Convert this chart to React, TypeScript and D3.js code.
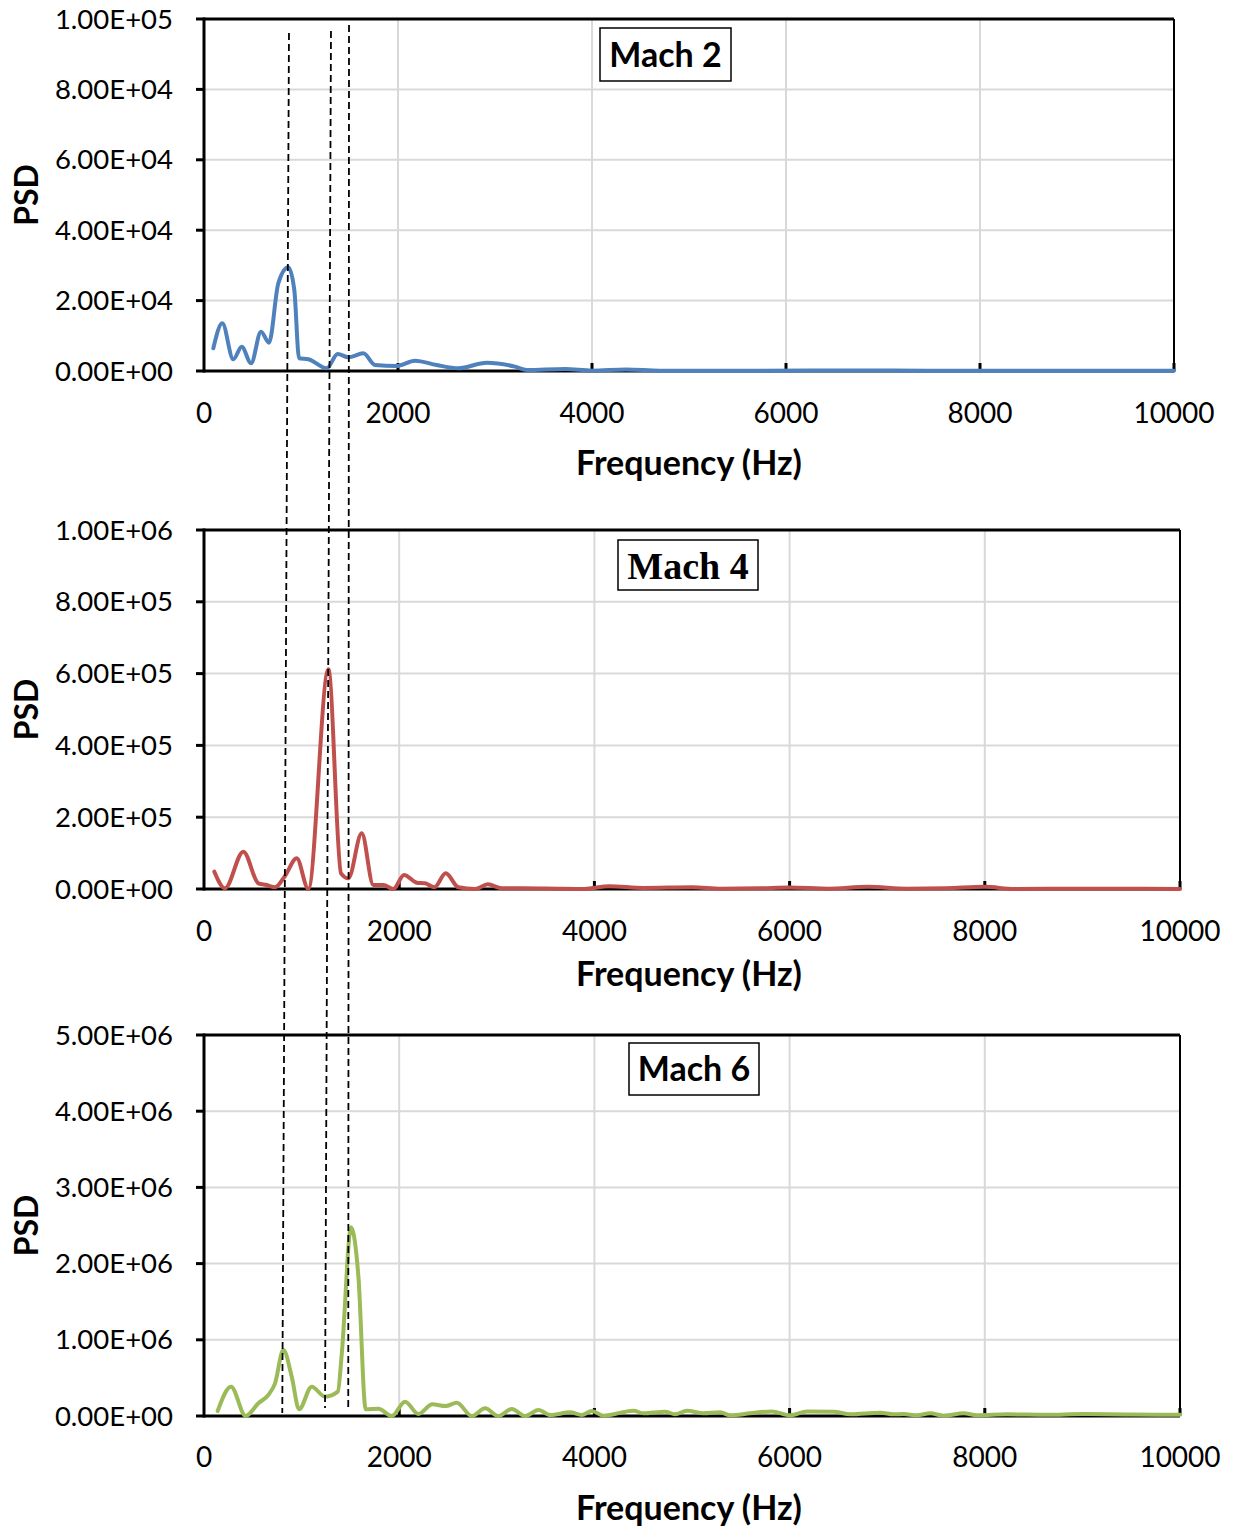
import React, { useRef, useEffect } from 'react';
import * as d3 from 'd3';

const WIDTH = 1234;
const HEIGHT = 1529;
const FONT = 'Lato, "Open Sans", sans-serif';

const X_TICKS = [0, 2000, 4000, 6000, 8000, 10000];

// Mach 2
const M2_FREQ = [96, 189, 302, 389, 485, 588, 670, 766, 869, 931, 980, 1076, 1265, 1378, 1488, 1643, 1763, 1987, 2175, 2398, 2622, 2914, 3206, 3327, 3722, 4000, 4350, 4700, 5500, 6900, 8000, 9000, 10000];
const M2_PSD = [6450, 13550, 3320, 6900, 2190, 11170, 8040, 24900, 29460, 23000, 3600, 3320, 770, 4830, 3880, 5020, 1700, 1420, 2930, 1700, 770, 2360, 1230, 280, 570, 100, 400, 100, 80, 150, 50, 100, 50];

// Mach 4
const M4_FREQ = [106, 215, 403, 557, 643, 728, 830, 950, 1069, 1274, 1404, 1479, 1616, 1735, 1838, 1940, 2050, 2180, 2265, 2361, 2477, 2607, 2778, 2908, 3051, 3500, 3900, 4150, 4500, 5000, 5300, 5700, 6000, 6400, 6800, 7200, 7600, 8000, 8300, 9000, 10000];
const M4_PSD = [48200, 2000, 104000, 15900, 11100, 4700, 36200, 85500, 0, 612000, 43700, 29800, 155000, 11100, 11100, 0, 39000, 17600, 15900, 4700, 43700, 4700, 0, 13000, 2000, 1500, 0, 8000, 3000, 5000, 1000, 2000, 4000, 1000, 6000, 1000, 2000, 6000, 0, 1000, 0];

// Mach 6
const M6_FREQ = [140, 277, 427, 557, 659, 728, 813, 899, 974, 1104, 1241, 1371, 1412, 1507, 1582, 1657, 1787, 1924, 2060, 2197, 2340, 2477, 2590, 2744, 2880, 3017, 3154, 3290, 3427, 3547, 3752, 3871, 3974, 4093, 4400, 4503, 4725, 4827, 4947, 5118, 5289, 5392, 5596, 5818, 6007, 6178, 6451, 6622, 6929, 7066, 7168, 7305, 7441, 7578, 7783, 7920, 8227, 8637, 9000, 9500, 10000];
const M6_PSD = [65600, 384000, 0, 167000, 276000, 429000, 866000, 516000, 88000, 384000, 253000, 319000, 822000, 2476000, 1831000, 88000, 96000, 0, 188000, 26000, 153000, 131000, 175000, 0, 101000, 0, 92000, 0, 79000, 13000, 48000, 13000, 66000, 4000, 70000, 35000, 57000, 22000, 70000, 35000, 48000, 9000, 35000, 60000, 9000, 60000, 57000, 22000, 44000, 22000, 26000, 9000, 35000, 4000, 35000, 9000, 22000, 17000, 25000, 20000, 15000];

// dashed guide lines: frequency at the top (Mach 2 axis) and bottom (Mach 6 axis)
const GUIDE_TOP_FREQ = [876, 1309, 1495];
const GUIDE_TOP_PSD = [96000, 96600, 98300];
const GUIDE_BOTTOM_FREQ = [802, 1240, 1478];
const GUIDE_BOTTOM_PSD = [39000, 105000, 66000];

const panels = [
    { freq: M2_FREQ, psd: M2_PSD, yMax: 1e5, color: '#4F81BD', title: 'Mach 2', serif: false,
      left: 204, right: 1174, top: 19, bottom: 371, box: { x: 600, y: 28, w: 131, h: 53 }, tickY: 423, labelY: 475 },
    { freq: M4_FREQ, psd: M4_PSD, yMax: 1e6, color: '#C0504D', title: 'Mach 4', serif: true,
      left: 204, right: 1180, top: 530, bottom: 889, box: { x: 618, y: 540, w: 140, h: 50 }, tickY: 941, labelY: 986 },
    { freq: M6_FREQ, psd: M6_PSD, yMax: 5e6, color: '#9BBB59', title: 'Mach 6', serif: false,
      left: 204, right: 1180, top: 1035, bottom: 1416, box: { x: 629, y: 1043, w: 130, h: 52 }, tickY: 1467, labelY: 1520 },
];

const sci = (v: number) => {
    if (v === 0) return '0.00E+00';
    const e = Math.floor(Math.log10(v));
    const m = v / Math.pow(10, e);
    return `${m.toFixed(2)}E+${String(e).padStart(2, '0')}`;
};

const App = () => {
    const svgRef = useRef<SVGSVGElement>(null);

    useEffect(() => {
        const svg = d3.select(svgRef.current);
        svg.selectAll('*').remove();

        const scales: any[] = [];

        panels.forEach(p => {
            const x = d3.scaleLinear().domain([0, 10000]).range([p.left, p.right]);
            const y = d3.scaleLinear().domain([0, p.yMax]).range([p.bottom, p.top]);
            scales.push({ x, y });
            const yTicks = d3.range(0, 6).map(i => (p.yMax / 5) * i);

            const g = svg.append('g');

            // grid
            g.selectAll('.hgrid')
                .data(yTicks.slice(1))
                .join('line')
                .attr('x1', p.left).attr('x2', p.right)
                .attr('y1', d => y(d)).attr('y2', d => y(d))
                .attr('stroke', '#d9d9d9').attr('stroke-width', 2);

            g.selectAll('.vgrid')
                .data(X_TICKS.slice(1))
                .join('line')
                .attr('x1', d => x(d)).attr('x2', d => x(d))
                .attr('y1', p.top).attr('y2', p.bottom)
                .attr('stroke', '#d9d9d9').attr('stroke-width', 2);

            // frame
            g.append('line').attr('x1', p.left).attr('x2', p.right).attr('y1', p.top).attr('y2', p.top)
                .attr('stroke', 'black').attr('stroke-width', 3);
            g.append('line').attr('x1', p.right).attr('x2', p.right).attr('y1', p.top).attr('y2', p.bottom)
                .attr('stroke', 'black').attr('stroke-width', 2);
            g.append('line').attr('x1', p.left).attr('x2', p.left).attr('y1', p.top - 1.5).attr('y2', p.bottom + 1.5)
                .attr('stroke', 'black').attr('stroke-width', 3);
            g.append('line').attr('x1', p.left).attr('x2', p.right).attr('y1', p.bottom).attr('y2', p.bottom)
                .attr('stroke', 'black').attr('stroke-width', 3);

            // y ticks
            g.selectAll('.ytick')
                .data(yTicks)
                .join('line')
                .attr('x1', p.left - 8).attr('x2', p.left)
                .attr('y1', d => y(d)).attr('y2', d => y(d))
                .attr('stroke', 'black').attr('stroke-width', 3);

            g.selectAll('.ylabel')
                .data(yTicks)
                .join('text')
                .attr('x', 173)
                .attr('y', d => y(d))
                .attr('dy', '0.35em')
                .attr('text-anchor', 'end')
                .attr('font-family', FONT)
                .attr('font-size', 27.5)
                .text(d => sci(d));

            // x ticks
            g.selectAll('.xtick')
                .data(X_TICKS.slice(1))
                .join('line')
                .attr('x1', d => x(d)).attr('x2', d => x(d))
                .attr('y1', p.bottom).attr('y2', p.bottom - 8)
                .attr('stroke', 'black').attr('stroke-width', 3);

            g.selectAll('.xlabel')
                .data(X_TICKS)
                .join('text')
                .attr('x', d => x(d))
                .attr('y', p.tickY)
                .attr('text-anchor', 'middle')
                .attr('font-family', FONT)
                .attr('font-size', 28)
                .text(d => String(d));

            g.append('text')
                .attr('x', 689)
                .attr('y', p.labelY)
                .attr('text-anchor', 'middle')
                .attr('font-family', FONT)
                .attr('font-weight', 'bold')
                .attr('font-size', 34)
                .text('Frequency (Hz)');

            g.append('text')
                .attr('transform', `translate(25,${(p.top + p.bottom) / 2}) rotate(-90)`)
                .attr('text-anchor', 'middle')
                .attr('dominant-baseline', 'central')
                .attr('font-family', FONT)
                .attr('font-weight', 'bold')
                .attr('font-size', 32)
                .text('PSD');

            // series
            const pts = p.freq.map((f, i) => [f, p.psd[i]] as [number, number]);
            const line = d3.line<[number, number]>()
                .x(d => x(d[0]))
                .y(d => y(d[1]))
                .curve(d3.curveMonotoneX);

            g.append('path')
                .datum(pts)
                .attr('fill', 'none')
                .attr('stroke', p.color)
                .attr('stroke-width', 4)
                .attr('stroke-linejoin', 'round')
                .attr('stroke-linecap', 'round')
                .attr('d', line);

            // title box
            g.append('rect')
                .attr('x', p.box.x).attr('y', p.box.y)
                .attr('width', p.box.w).attr('height', p.box.h)
                .attr('fill', 'white')
                .attr('stroke', 'black')
                .attr('stroke-width', 1.5);

            g.append('text')
                .attr('x', p.box.x + p.box.w / 2)
                .attr('y', p.box.y + p.box.h / 2)
                .attr('dy', '0.36em')
                .attr('text-anchor', 'middle')
                .attr('font-family', p.serif ? '"Liberation Serif", "Times New Roman", serif' : FONT)
                .attr('font-weight', 'bold')
                .attr('font-size', p.serif ? 38 : 34)
                .text(p.title);
        });

        // dashed guides across all panels
        const top = scales[0];
        const bot = scales[2];
        GUIDE_TOP_FREQ.forEach((f, i) => {
            svg.append('line')
                .attr('x1', top.x(f))
                .attr('y1', top.y(GUIDE_TOP_PSD[i]))
                .attr('x2', bot.x(GUIDE_BOTTOM_FREQ[i]))
                .attr('y2', bot.y(GUIDE_BOTTOM_PSD[i]))
                .attr('stroke', 'black')
                .attr('stroke-width', 1.8)
                .attr('stroke-dasharray', '7,4');
        });
    }, []);

    return (
        <svg ref={svgRef} width={WIDTH} height={HEIGHT}
            style={{ position: 'absolute', left: 0, top: 0, background: 'white' }} />
    );
};

export default App;
